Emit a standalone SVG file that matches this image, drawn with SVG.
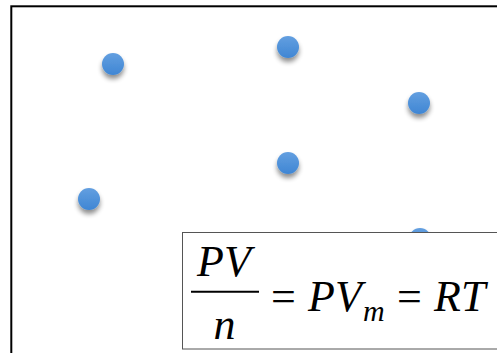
<svg xmlns="http://www.w3.org/2000/svg" width="497" height="353" viewBox="0 0 497 353">
<defs>
<linearGradient id="dotGrad" x1="0" y1="0" x2="0" y2="1">
<stop offset="0" stop-color="#639fe0"/>
<stop offset="1" stop-color="#3f86d4"/>
</linearGradient>
<filter id="shadow" x="-60%" y="-60%" width="220%" height="240%">
<feGaussianBlur in="SourceAlpha" stdDeviation="2.5"/>
<feOffset dx="0" dy="4" result="b"/>
<feComponentTransfer><feFuncA type="linear" slope="0.45"/></feComponentTransfer>
<feMerge><feMergeNode/><feMergeNode in="SourceGraphic"/></feMerge>
</filter>
<style>
.dot{fill:url(#dotGrad);filter:url(#shadow);}
text{fill:#000;}
.it{font-style:italic;}
</style>
</defs>
<rect x="0" y="0" width="497" height="353" fill="#fff"/>
<rect id="frame" x="11.3" y="6.3" width="500" height="360" fill="none" stroke="#000" stroke-width="2"/>
<g id="particles">
<circle id="p1" class="dot" cx="113" cy="64" r="11"/>
<circle id="p2" class="dot" cx="288" cy="47" r="11"/>
<circle id="p3" class="dot" cx="419" cy="103" r="11"/>
<circle id="p4" class="dot" cx="288" cy="163" r="11"/>
<circle id="p5" class="dot" cx="89" cy="199" r="11"/>
<circle id="p6" class="dot" cx="420" cy="239" r="11"/>
</g>
<g id="equation" font-family="'Liberation Serif', 'Times New Roman', serif" font-size="44">
<rect x="182.5" y="232.5" width="330" height="116.5" fill="#fff" stroke="#555" stroke-width="1"/>
<text class="it" x="197" y="275.5">PV</text>
<line x1="191" y1="291.7" x2="259" y2="291.7" stroke="#000" stroke-width="2"/>
<text class="it" x="213.5" y="339">n</text>
<text x="271" y="311">=</text>
<text class="it" x="308" y="311">PV</text>
<text class="it" font-size="30" x="363" y="321">m</text>
<text x="397" y="311">=</text>
<text class="it" x="434" y="311">RT</text>
</g>
</svg>
